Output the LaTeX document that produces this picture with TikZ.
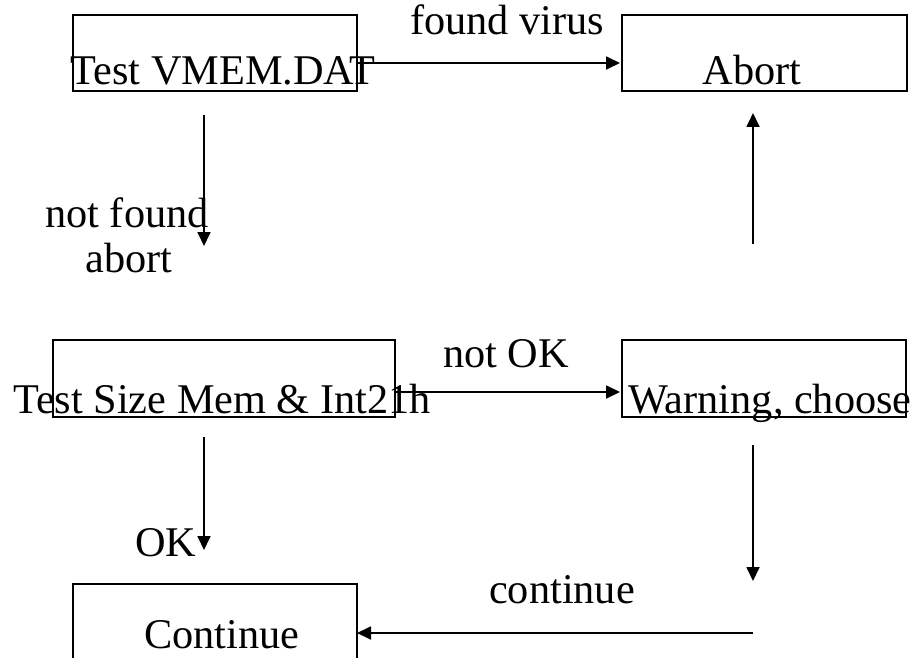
\documentclass[tikz,border=0pt]{standalone}
\usepackage{fontspec}
\setmainfont{Liberation Serif}
\usetikzlibrary{arrows.meta}
\begin{document}
\begin{tikzpicture}[x=1pt,y=-1pt,
  box/.style={draw, line width=1.8pt, inner sep=0pt, anchor=north west},
  lbl/.style={anchor=base, inner sep=0pt, font=\fontsize{42.3}{48}\selectfont},
  conn/.style={line width=1.8pt, -{Triangle[length=14pt,width=13pt]}}]
\useasboundingbox (0,0) rectangle (921,658);
\clip (0,0) rectangle (921,658);
% boxes
\node[box, minimum width=284pt, minimum height=76pt] (b1) at (72,14) {};
\node[box, minimum width=285pt, minimum height=76pt] (b2) at (621,14) {};
\node[box, minimum width=342pt, minimum height=77pt] (b3) at (52,339) {};
\node[box, minimum width=284pt, minimum height=77pt] (b4) at (621,339) {};
\node[box, minimum width=284pt, minimum height=117pt] (b5) at (72,583) {};
% box texts
\node[lbl] (t1) at (223,85) {Test VMEM.DAT};
\node[lbl] (t2) at (752,85) {Abort};
\node[lbl] (t3) at (222,413) {Test Size Mem \& Int21h};
\node[lbl] (t4) at (770,413) {Warning, choose};
\node[lbl] (t5) at (222,648) {Continue};
% connector end points
\coordinate (a1s) at (356,63);  \coordinate (a1e) at (620,63);
\coordinate (a2s) at (204,115); \coordinate (a2e) at (204,246);
\coordinate (a3s) at (753,244); \coordinate (a3e) at (753,113);
\coordinate (a4s) at (394,392); \coordinate (a4e) at (620,392);
\coordinate (a5s) at (753,445); \coordinate (a5e) at (753,581);
\coordinate (a6s) at (204,437); \coordinate (a6e) at (204,550);
\coordinate (a7s) at (753,633); \coordinate (a7e) at (357,633);
\draw[conn] (a1s) -- (a1e);
\draw[conn] (a2s) -- (a2e);
\draw[conn] (a3s) -- (a3e);
\draw[conn] (a4s) -- (a4e);
\draw[conn] (a5s) -- (a5e);
\draw[conn] (a6s) -- (a6e);
\draw[conn] (a7s) -- (a7e);
% connector labels
\node[lbl] (l1) at (507,35) {found virus};
\node[lbl] (l2a) at (127,227) {not found};
\node[lbl] (l2b) at (129,272) {abort};
\node[lbl] (l3) at (506,367) {not OK};
\node[lbl] (l4) at (166,556) {OK};
\node[lbl] (l5) at (562,603) {continue};
\end{tikzpicture}
\end{document}
